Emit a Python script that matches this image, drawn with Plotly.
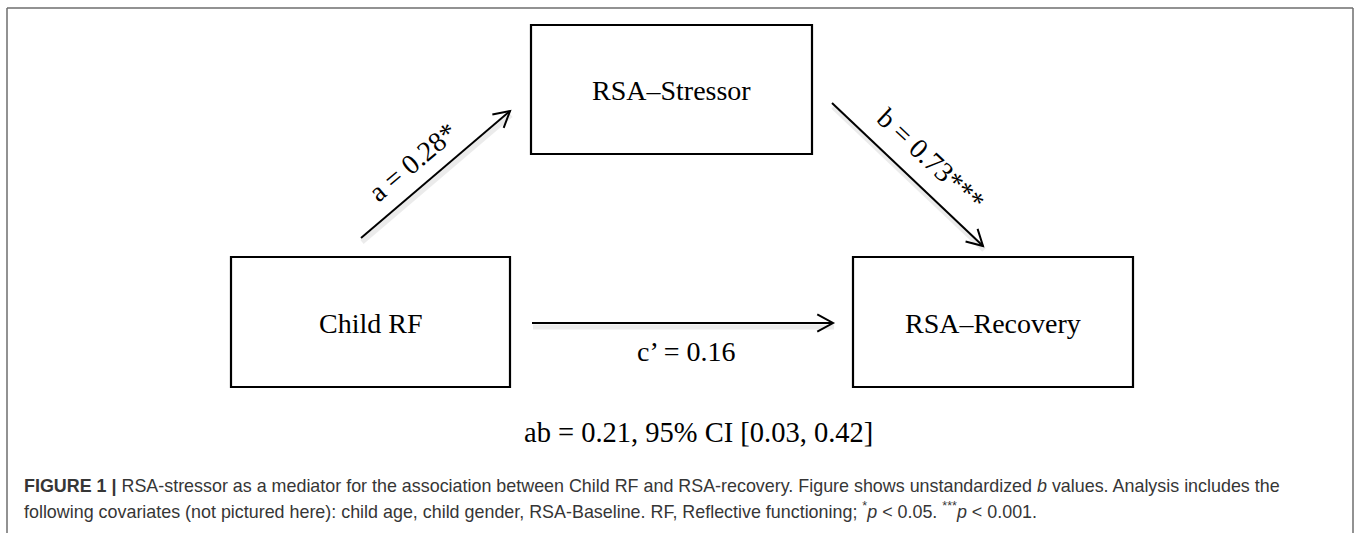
import math
import plotly.graph_objects as go

# ---------------- data ----------------
node_labels = ["Child RF", "RSA\u2013Stressor", "RSA\u2013Recovery"]
path_names = ["a", "b", "c\u2019"]
path_coefs = [0.28, 0.73, 0.16]
path_stars = ["*", "***", ""]
indirect_name = "ab"
indirect_value = 0.21
ci_level = "95%"
ci_bounds = [0.03, 0.42]
caption_line1 = ("<b>FIGURE 1 |</b> RSA-stressor as a mediator for the association between Child RF and "
                 "RSA-recovery. Figure shows unstandardized <i>b</i> values. Analysis includes the")
caption_line2 = ("following covariates (not pictured here): child age, child gender, RSA-Baseline. RF, "
                 "Reflective functioning; <sup>*</sup><i>p</i> &lt; 0.05. <sup>***</sup><i>p</i> &lt; 0.001.")

# ---------------- layout (pixel space) ----------------
W, H = 1358, 533
boxes = {  # x0, y0, x1, y1
    "Child RF": (231, 257, 510, 387),
    "RSA\u2013Stressor": (531, 25, 812, 154),
    "RSA\u2013Recovery": (853, 257, 1133, 387),
}
arrows = {  # tail (x, y) -> head (x, y)
    "a": ((361, 238), (510, 111)),
    "b": ((832, 103), (983, 246)),
    "c\u2019": ((532, 323), (833, 323)),
}
label_pos = {"a": (412, 162, -40), "b": (931, 159, 43), "c\u2019": (686, 351, 0)}
HEAD_LEN, HEAD_HALF_ANGLE = 18, math.radians(29)
serif = dict(family="Liberation Serif, Times New Roman, serif", size=28, color="black")
sans = dict(family="Liberation Sans, Arial, sans-serif", size=17.9, color="#363636")

fig = go.Figure()
shapes = []
annotations = []

# outer frame (open at the bottom)
for (x0, y0, x1, y1) in [(7, 8, 1353, 8), (7, 8, 7, H + 5), (1353, 8, 1353, H + 5)]:
    shapes.append(dict(type="line", xref="x", yref="y", x0=x0, y0=y0, x1=x1, y1=y1,
                       line=dict(color="#6e6e6e", width=1.5)))

# boxes + labels
for name in node_labels:
    x0, y0, x1, y1 = boxes[name]
    shapes.append(dict(type="rect", xref="x", yref="y", x0=x0, y0=y0, x1=x1, y1=y1,
                       line=dict(color="black", width=2.2), fillcolor="white"))
    annotations.append(dict(x=(x0 + x1) / 2, y=(y0 + y1) / 2 + 1, xref="x", yref="y",
                            text=name, showarrow=False, font=serif,
                            xanchor="center", yanchor="middle"))

# arrows (shaft + open chevron head, soft shadow) + coefficient labels
for name, coef, stars in zip(path_names, path_coefs, path_stars):
    (tx, ty), (hx, hy) = arrows[name]
    ang = math.atan2(hy - ty, hx - tx)
    arms = [(hx - HEAD_LEN * math.cos(ang + s * HEAD_HALF_ANGLE),
             hy - HEAD_LEN * math.sin(ang + s * HEAD_HALF_ANGLE)) for s in (1, -1)]
    # shadow
    shapes.append(dict(type="line", xref="x", yref="y", x0=tx + 1, y0=ty + 4, x1=hx + 1, y1=hy + 4,
                       line=dict(color="rgba(0,0,0,0.08)", width=5)))
    # shaft
    shapes.append(dict(type="line", xref="x", yref="y", x0=tx, y0=ty, x1=hx, y1=hy,
                       line=dict(color="black", width=2)))
    # head
    shapes.append(dict(type="path", xref="x", yref="y",
                       path=f"M{arms[0][0]:.2f},{arms[0][1]:.2f} L{hx},{hy} L{arms[1][0]:.2f},{arms[1][1]:.2f}",
                       line=dict(color="black", width=2)))
    lx, ly, tang = label_pos[name]
    annotations.append(dict(x=lx, y=ly, xref="x", yref="y", showarrow=False,
                            text=f"{name} = {coef:.2f}{stars}", textangle=tang, font=serif,
                            xanchor="center", yanchor="middle"))

# indirect effect
annotations.append(dict(x=698, y=432, xref="x", yref="y", showarrow=False,
                        font=dict(serif, size=28.5),
                        text=f"{indirect_name} = {indirect_value:.2f}, {ci_level} CI "
                             f"[{ci_bounds[0]:.2f}, {ci_bounds[1]:.2f}]",
                        xanchor="center", yanchor="middle"))

# caption
annotations.append(dict(x=22, y=486, xref="x", yref="y", showarrow=False, text=caption_line1,
                        font=sans, xanchor="left", yanchor="middle", align="left"))
annotations.append(dict(x=22, y=510, xref="x", yref="y", showarrow=False, text=caption_line2,
                        font=sans, xanchor="left", yanchor="middle", align="left"))

fig.update_layout(
    width=W, height=H, margin=dict(l=0, r=0, t=0, b=0),
    paper_bgcolor="white", plot_bgcolor="white",
    xaxis=dict(range=[0, W], visible=False, fixedrange=True),
    yaxis=dict(range=[H, 0], visible=False, fixedrange=True),
    shapes=shapes, annotations=annotations, showlegend=False,
)
fig.write_html("out.html", config={"displayModeBar": False},
               post_script="document.body.style.margin='0';document.body.style.overflow='hidden';")
